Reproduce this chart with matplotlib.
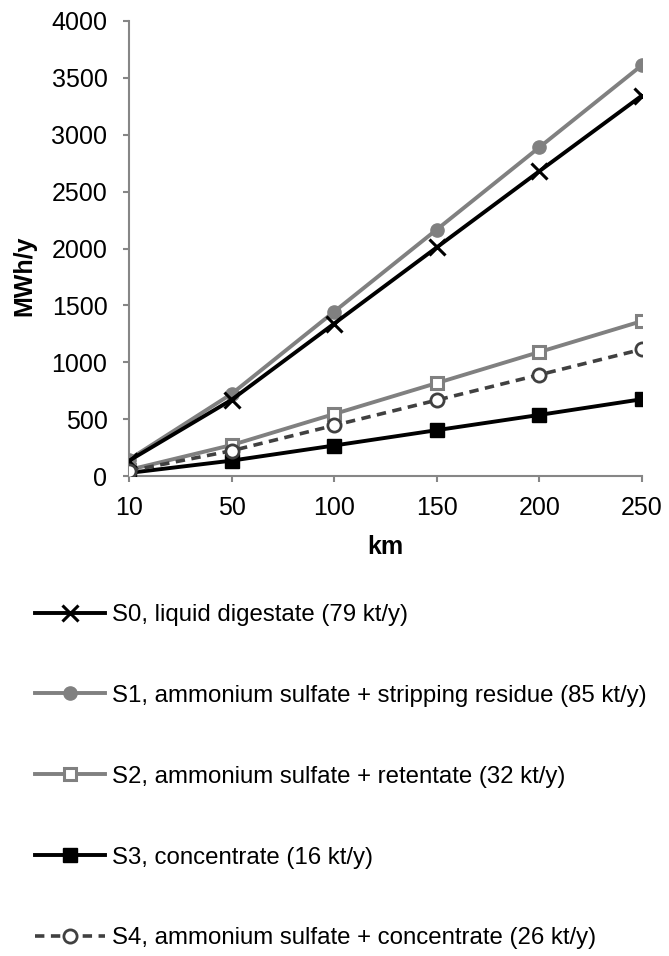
import matplotlib
matplotlib.use("Agg")
import matplotlib.pyplot as plt

plt.rcParams['font.family'] = ['Liberation Sans', 'DejaVu Sans']

distances = ["10", "50", "100", "150", "200", "250"]
s0 = [134, 670, 1340, 2010, 2680, 3345]
s1 = [145, 722, 1445, 2167, 2890, 3612]
s2 = [54, 272, 545, 817, 1090, 1362]
s3 = [27, 135, 268, 403, 537, 675]
s4 = [44, 222, 445, 667, 890, 1114]
labels = ["S0, liquid digestate (79 kt/y)",
          "S1, ammonium sulfate + stripping residue (85 kt/y)",
          "S2, ammonium sulfate + retentate (32 kt/y)",
          "S3, concentrate (16 kt/y)",
          "S4, ammonium sulfate + concentrate (26 kt/y)"]
yticks = [0, 500, 1000, 1500, 2000, 2500, 3000, 3500, 4000]

W, H = 669, 956
fig = plt.figure(figsize=(W / 100, H / 100), dpi=100)
ax = fig.add_axes([129 / W, 1 - 476 / H, (642 - 129) / W, (476 - 21) / H])

x = list(range(len(distances)))
gray = '#808080'
dark = '#404040'
lw = 2.8
h0, = ax.plot(x, s0, color='black', lw=lw, marker='x', ms=11, mew=2.2, zorder=4)
h1, = ax.plot(x, s1, color=gray, lw=lw, marker='o', ms=9.5, mfc=gray, mec=gray, zorder=3)
h2, = ax.plot(x, s2, color=gray, lw=lw, marker='s', ms=9, mfc='white', mec=gray, mew=2.2, zorder=3)
h3, = ax.plot(x, s3, color='black', lw=lw, marker='s', ms=10, mfc='black', mec='black', zorder=4)
h4, = ax.plot(x, s4, color=dark, lw=2.6, ls=(0, (2.6, 1.8)), marker='o', ms=9.5, mfc='white',
              mec=dark, mew=2.0, zorder=5)

ax.set_xlim(0, len(distances) - 1)
ax.set_ylim(0, 4000)
ax.set_xticks(x)
ax.set_xticklabels(distances)
ax.set_yticks(yticks)
for s in ['top', 'right']:
    ax.spines[s].set_visible(False)
for s in ['left', 'bottom']:
    ax.spines[s].set_color('#868686')
    ax.spines[s].set_linewidth(1.5)
ax.tick_params(axis='both', colors='#868686', labelcolor='black', labelsize=18,
               length=4.5, width=1.5, direction='out')
ax.tick_params(axis='y', pad=11)
ax.tick_params(axis='x', pad=10)
for lab in ax.get_xticklabels() + ax.get_yticklabels():
    lab.set_clip_on(False)

fig.text(385 / W, 1 - 547 / H, "km", ha='center', va='center', fontsize=18, fontweight='bold')
fig.text(24 / W, 1 - 276 / H, "MWh/y", ha='center', va='center', fontsize=18,
         fontweight='bold', rotation=90)

leg = fig.legend([h0, h1, h2, h3, h4], labels, loc='upper left',
                 bbox_to_anchor=(35 / W, 1 - 604 / H), frameon=False, fontsize=17.3,
                 handlelength=2.9, handletextpad=0.29, labelspacing=2.45,
                 borderaxespad=0, borderpad=0)

fig.savefig("out.png", dpi=100)
